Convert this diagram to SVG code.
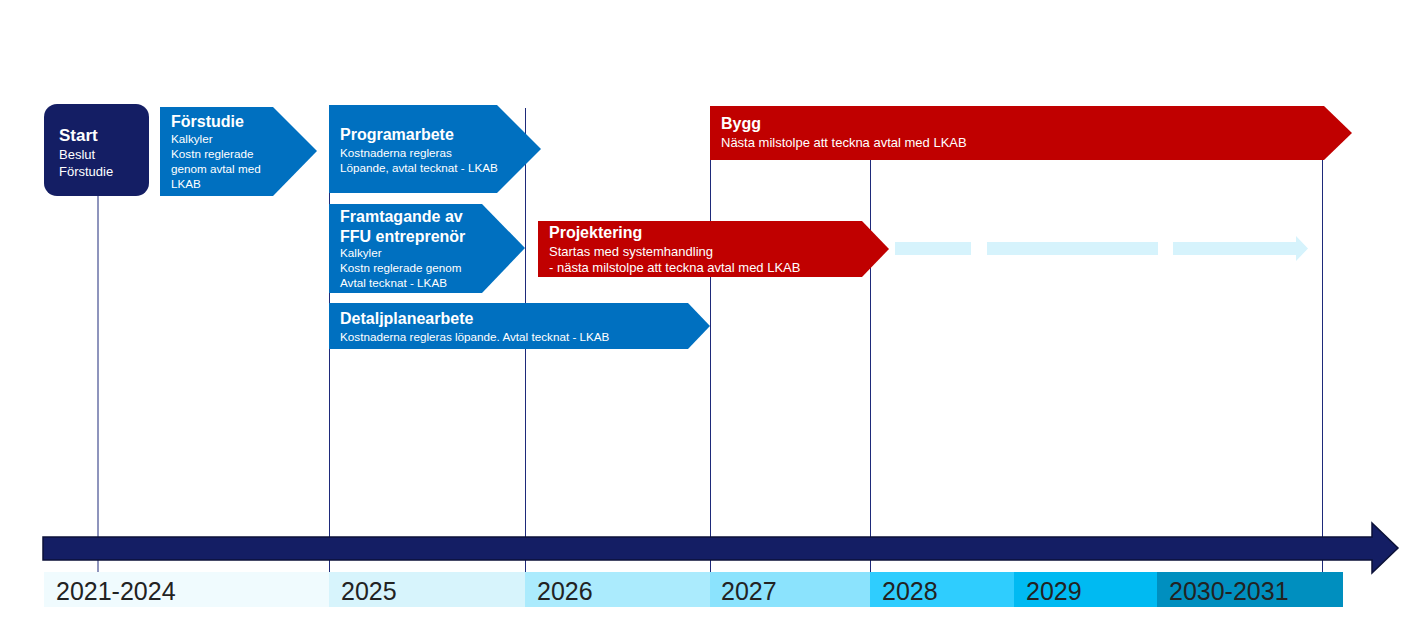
<svg xmlns="http://www.w3.org/2000/svg" width="1417" height="628" viewBox="0 0 1417 628">
<style>
.t{font-family:"Liberation Sans",Arial,sans-serif;fill:#fff}
.h{font-weight:bold;font-size:16px}
.s{font-size:11.7px}
.r{font-size:13px}
.blue{fill:#0070C0}
.red{fill:#C00000}
.vl{stroke:#1E2A7A;stroke-width:1;fill:none}
.yr{font-family:"Liberation Sans",Arial,sans-serif;font-size:25px;fill:#222}
.dash{fill:#D6F3FC}
</style>
<rect width="1417" height="628" fill="#fff"/>
<g id="connectors">
<line class="vl" x1="98" y1="196" x2="98" y2="572"/>
<line class="vl" x1="329.5" y1="105" x2="329.5" y2="572"/>
<line class="vl" x1="525.5" y1="108" x2="525.5" y2="572"/>
<line class="vl" x1="710.5" y1="160" x2="710.5" y2="572"/>
<line class="vl" x1="870.5" y1="160" x2="870.5" y2="572"/>
<line class="vl" x1="1322.5" y1="160" x2="1322.5" y2="572"/>
</g>
<g id="timeline">
<polygon points="43,537 1372,537 1372,523 1398,548 1372,573 1372,560 43,560" fill="#141E64" stroke="#0B1138" stroke-width="1.5"/>
</g>
<g id="years">
<rect x="44" y="572" width="285" height="35" fill="#F0FBFE"/>
<rect x="329" y="572" width="196" height="35" fill="#D7F4FC"/>
<rect x="525" y="572" width="185" height="35" fill="#ABEBFD"/>
<rect x="710" y="572" width="160" height="35" fill="#8BE3FD"/>
<rect x="870" y="572" width="144" height="35" fill="#2FCDFE"/>
<rect x="1014" y="572" width="143" height="35" fill="#00BAF2"/>
<rect x="1157" y="572" width="186" height="35" fill="#008FBF"/>
<text class="yr" x="56" y="600">2021-2024</text>
<text class="yr" x="341" y="600">2025</text>
<text class="yr" x="537" y="600">2026</text>
<text class="yr" x="721" y="600">2027</text>
<text class="yr" x="882" y="600">2028</text>
<text class="yr" x="1026" y="600">2029</text>
<text class="yr" x="1169" y="600">2030-2031</text>
</g>
<g id="start">
<rect x="44" y="104" width="105" height="92" rx="13" fill="#141E64"/>
<text class="t" x="59" y="141" font-weight="bold" font-size="17">Start</text>
<text class="t" x="59" y="159" font-size="13">Beslut</text>
<text class="t" x="59" y="176" font-size="13">Förstudie</text>
</g>
<g id="forstudie">
<polygon class="blue" points="160,107 273,107 317,151 273,196 160,196"/>
<text class="t h" x="171" y="127">Förstudie</text>
<text class="t s" x="171" y="143">Kalkyler</text>
<text class="t s" x="171" y="158">Kostn reglerade</text>
<text class="t s" x="171" y="173">genom avtal med</text>
<text class="t s" x="171" y="188">LKAB</text>
</g>
<g id="programarbete">
<polygon class="blue" points="329,105 497,105 541,149 497,193 329,193"/>
<text class="t h" x="340" y="140">Programarbete</text>
<text class="t s" x="340" y="157">Kostnaderna regleras</text>
<text class="t s" x="340" y="172">Löpande, avtal tecknat - LKAB</text>
</g>
<g id="framtagande">
<polygon class="blue" points="329,204 482,204 525,248 482,293 329,293"/>
<text class="t h" x="340" y="222">Framtagande av</text>
<text class="t h" x="340" y="242">FFU entreprenör</text>
<text class="t s" x="340" y="257">Kalkyler</text>
<text class="t s" x="340" y="272">Kostn reglerade genom</text>
<text class="t s" x="340" y="287">Avtal tecknat - LKAB</text>
</g>
<g id="detaljplanearbete">
<polygon class="blue" points="329,303 688,303 710,326 688,349 329,349"/>
<text class="t h" x="340" y="324">Detaljplanearbete</text>
<text class="t s" x="340" y="341">Kostnaderna regleras löpande. Avtal tecknat - LKAB</text>
</g>
<g id="projektering">
<polygon class="red" points="538,221 862,221 889,249 862,277 538,277"/>
<text class="t h" x="549" y="238">Projektering</text>
<text class="t r" x="549" y="256">Startas med systemhandling</text>
<text class="t r" x="549" y="272">- nästa milstolpe att teckna avtal med LKAB</text>
</g>
<g id="bygg">
<polygon class="red" points="710,106 1324,106 1352,133 1324,160 710,160"/>
<text class="t h" x="721" y="129">Bygg</text>
<text class="t r" x="721" y="147">Nästa milstolpe att teckna avtal med LKAB</text>
</g>
<g id="continuation">
<rect class="dash" x="895" y="242" width="76" height="13"/>
<rect class="dash" x="987" y="242" width="171" height="13"/>
<polygon class="dash" points="1173,242 1296,242 1296,236 1308,248.5 1296,261 1296,255 1173,255"/>
</g>
</svg>
